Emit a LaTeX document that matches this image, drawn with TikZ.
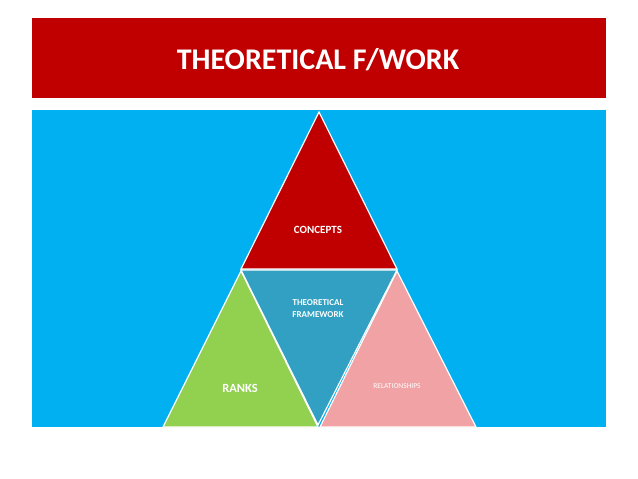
\documentclass[tikz,border=0pt]{standalone}
\usepackage{fontspec}
\setmainfont{Carlito}
\usetikzlibrary{positioning}
\definecolor{bannerred}{RGB}{192,0,0}
\definecolor{skyblue}{RGB}{0,176,240}
\definecolor{teal}{RGB}{49,160,194}
\definecolor{lightgreen}{RGB}{146,208,80}
\definecolor{softpink}{RGB}{240,162,164}
\begin{document}
\begin{tikzpicture}[x=1pt,y=-1pt,
		piece/.style={draw=white, line width=1.2pt, line join=miter},
		label/.style={text=white, font=\bfseries, align=center, inner sep=0pt},
		]
		\useasboundingbox (0,0) rectangle (638,479);
		%Background
		\fill[white] (0,0) rectangle (638,479);
		\fill[bannerred]	(32,18) rectangle (606,98);
		\fill[skyblue]		(32,110) rectangle (606,427);
		\node[text=white, font=\bfseries\fontsize{30}{30}\selectfont] (title) at (318,60) {THEORETICAL F/WORK};

		%Triangles
		\filldraw[piece, fill=bannerred]	(319,112) -- (397,269) -- (241,269) -- cycle;
		\filldraw[piece, fill=teal]			(241,270) -- (397,270) -- (318,425) -- cycle;
		\filldraw[piece, fill=lightgreen]	(241,271) -- (318,427) -- (163,427) -- cycle;
		\filldraw[piece, fill=softpink]		(397,271) -- (476,427) -- (320,427) -- cycle;

		%Labels
		\node[label, font=\bfseries\fontsize{11}{13}\selectfont]	(concepts)	at (318,230) {CONCEPTS};
		\node[label, font=\bfseries\fontsize{9}{12}\selectfont]	(framework)	at (318,309) {THEORETICAL\\FRAMEWORK};
		\node[label, font=\bfseries\fontsize{12.5}{14}\selectfont]	(ranks)		at (240,388) {RANKS};
		\node[label, font=\fontsize{7.5}{9}\selectfont]			(relations)	at (397,386) {RELATIONSHIPS};
\end{tikzpicture}
\end{document}
